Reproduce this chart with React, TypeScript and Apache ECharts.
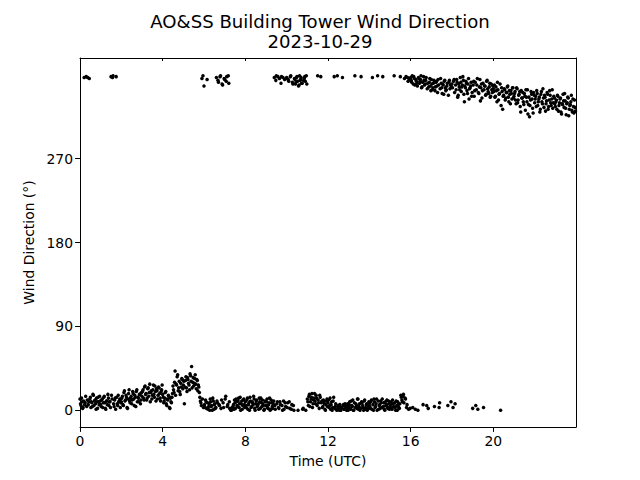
import React, { useEffect, useRef } from "react";
import * as echarts from "echarts";

// Wind direction (degrees). Readings every 3 minutes (0.05 h) per 3-hour block,
// plus a second set of readings offset by 1.5 minutes.
const stepHours = 0.05;
const offsetHours = 0.025;

const dir00to03 = [
  12, 5, 9, 3, 357, 8, 358, 11, 6, 356, 14, 9, 4, 16, 10, 7, 13, 2, 9, 15,
  6, 11, 3, 14, 8, 1, 10, 17, 5, 9, 358, 12, 359, 4, 13, 358, 7, 16, 10, 3,
  9, 15, 5, 21, 11, 14, 2, 18, 10, 13, 7, 20, 12, 16, 4, 22, 14, 9, 17, 11,
];
const dir03to06 = [
  15, 22, 11, 26, 18, 13, 24, 19, 9, 21, 16, 27, 14, 20, 23, 12, 25, 18, 10, 22,
  17, 8, 13, 20, 5, 11, 15, 2, 9, 14, 26, 19, 42, 28, 36, 21, 31, 17, 25, 33,
  27, 7, 32, 24, 35, 29, 22, 37, 47, 30, 26, 34, 28, 33, 21, 25, 14, 8, 356, 359,
];
const dir06to09 = [
  348, 3, 9, 355, 1, 7, 12, 4, 0, 10, 6, 2, 357, 8, 352, 5, 359, 11, 349, 3,
  355, 15, 358, 6, 351, 2, 0, 2, 4, 1, 8, 12, 5, 10, 3, 14, 7, 1, 11, 6,
  9, 3, 13, 6, 0, 10, 4, 8, 15, 2, 7, 11, 5, 1, 9, 13, 4, 7, 0, 10,
];
const dir09to12 = [
  5, 12, 2, 8, 0, 11, 4, 7, 357, 1, 359, 9, 3, 356, 6, 358, 0, 10, 355, 4,
  357, 8, 353, 2, 359, 6, 350, 0, 355, 352, 358, 0, 349, 354, 357, 351, 2, 356, 353, 359,
  12, 5, 17, 9, 14, 3, 11, 18, 7, 13, 359, 8, 16, 358, 10, 4, 9, 1, 6, 12,
];
const dir12to15 = [
  8, 3, 13, 6, 0, 10, 358, 4, 1, 359, 5, 0, 3, 2, 357, 6, 1, 4, 0, 7,
  3, 9, 1, 5, 11, 0, 359, 7, 2, 12, 4, 0, 358, 8, 3, 10, 1, 6, 0, 4,
  7, 2, 11, 357, 0, 9, 4, 12, 359, 1, 6, 10, 3, 358, 8, 0, 5, 11, 2, 7,
];
const dir15to18 = [
  4, 9, 1, 7, 359, 3, 10, 0, 6, 2, 358, 14, 9, 17, 356, 12, 3, 357, 1, 355,
  357, 352, 3, 358, 349, 355, 351, 0, 356, 353, 359, 347, 6, 354, 350, 357, 345, 2, 352, 348,
  355, 344, 351, 4, 347, 353, 341, 349, 8, 356, 346, 350, 339, 354, 343, 348, 5, 352, 345, 9,
];
const dir18to21 = [
  350, 3, 355, 7, 344, 352, 338, 347, 357, 342, 349, 354, 331, 346, 351, 340, 356, 345, 348, 337,
  2, 353, 343, 5, 349, 1, 340, 355, 346, 335, 351, 344, 348, 339, 354, 342, 347, 336, 350, 341,
  345, 349, 337, 343, 352, 333, 340, 0, 346, 323, 338, 344, 335, 341, 348, 331, 339, 343, 334, 346,
];
const dir21to24 = [
  337, 342, 329, 345, 333, 339, 326, 343, 335, 331, 340, 322, 336, 344, 328, 315, 333, 339, 324, 341,
  330, 337, 343, 327, 334, 320, 339, 331, 345, 325, 336, 329, 341, 323, 333, 338, 327, 344, 330, 335,
  326, 333, 338, 321, 330, 335, 318, 328, 332, 340, 324, 329, 336, 316, 327, 331, 322, 334, 319, 325,
];

const dir00to03b = [
  7, 13, 2, 10, 6, 15, 4, 357, 9, 12, 3, 8, 17, 5, 11, 1, 9, 14, 6, 10,
  4, 12, 8, 15, 2, 10, 6, 13, 9, 3, 16, 357, 7, 11, 1, 14, 5, 9, 12, 8,
  13, 6, 19, 10, 16, 3, 12, 22, 8, 15, 11, 18, 5, 14, 20, 9, 13, 17, 7, 19,
];
const dir03to06b = [
  20, 13, 25, 17, 11, 23, 15, 28, 19, 12, 22, 17, 26, 10, 21, 16, 24, 13, 20, 27,
  14, 10, 19, 7, 12, 16, 3, 13, 8, 18, 22, 30, 16, 27, 38, 24, 20, 29, 34, 23,
  31, 25, 36, 20, 33, 27, 39, 31, 24, 35, 29, 38, 23, 32, 27, 19, 10, 5, 12, 3,
];
const dir06to09b = [
  6, 11, 2, 8, 4, 0, 9, 5, 13, 1, 7, 3, 10, 354, 6, 358, 2, 350, 8, 356,
  12, 353, 4, 359, 9, 1, 0, 3, 6, 11, 2, 9, 4, 13, 7, 0, 10, 5, 12, 3,
  5, 11, 1, 8, 14, 3, 9, 6, 12, 0, 10, 4, 7, 13, 2, 8, 11, 5, 1, 9,
];
const dir09to12b = [
  9, 3, 6, 13, 1, 8, 2, 10, 5, 354, 7, 358, 2, 9, 351, 5, 357, 1, 8, 356,
  3, 355, 9, 358, 1, 352, 5, 356, 350, 357, 353, 348, 359, 355, 351, 1, 354, 358, 0, 350,
  9, 15, 4, 12, 18, 7, 13, 10, 16, 5, 11, 2, 14, 8, 3, 11, 7, 0, 10, 4,
];
const dir12to15b = [
  11, 5, 1, 9, 3, 14, 2, 7, 0, 4, 2, 6, 0, 3, 5, 1, 7, 2, 4, 0,
  6, 2, 10, 4, 0, 8, 3, 5, 12, 1, 7, 2, 9, 5, 0, 11, 3, 7, 1, 9,
  4, 9, 1, 6, 12, 3, 7, 0, 10, 5, 2, 8, 12, 4, 1, 9, 6, 3, 10, 1,
];
const dir15to18b = [
  6, 2, 11, 4, 8, 0, 5, 9, 3, 7, 16, 11, 15, 8, 13, 358, 6, 353, 356, 2,
  354, 359, 350, 356, 1, 353, 348, 357, 351, 355, 346, 352, 358, 349, 354, 5, 351, 347, 356, 343,
  350, 346, 354, 343, 352, 348, 355, 3, 345, 351, 340, 349, 353, 346, 344, 351, 338, 354, 349, 347,
];
const dir18to21b = [
  346, 353, 341, 349, 355, 336, 350, 344, 352, 347, 358, 339, 348, 353, 343, 350, 334, 346, 352, 341,
  349, 337, 352, 344, 356, 341, 347, 332, 350, 343, 3, 348, 338, 353, 345, 340, 351, 337, 344, 348,
  342, 336, 347, 331, 344, 339, 350, 327, 342, 337, 345, 333, 341, 347, 336, 343, 329, 340, 346, 335,
];
const dir21to24b = [
  340, 333, 346, 330, 338, 342, 320, 335, 341, 328, 337, 344, 331, 318, 336, 327, 342, 334, 319, 338,
  334, 326, 340, 331, 336, 323, 342, 329, 335, 338, 321, 332, 339, 326, 343, 330, 334, 324, 337, 329,
  331, 323, 337, 327, 334, 320, 329, 339, 325, 332, 317, 330, 335, 323, 328, 338, 320, 326, 333, 321,
];

const blockStarts = [0, 3, 6, 9, 12, 15, 18, 21];
const blocksA = [dir00to03, dir03to06, dir06to09, dir09to12, dir12to15, dir15to18, dir18to21, dir21to24];
const blocksB = [dir00to03b, dir03to06b, dir06to09b, dir09to12b, dir12to15b, dir15to18b, dir18to21b, dir21to24b];

const xTicks = [0, 4, 8, 12, 16, 20];
const yTicks = [0, 90, 180, 270];

const FONT = "DejaVu Sans";

export default function App() {
  const ref = useRef<HTMLDivElement>(null);
  useEffect(() => {
    if (!ref.current) return;
    const chart = echarts.init(ref.current, undefined, { renderer: "svg" });
    const data: number[][] = [];
    const addBlocks = (blocks: number[][], offset: number) => {
      blocks.forEach((arr, b) => {
        arr.forEach((d, i) => {
          data.push([Math.round((blockStarts[b] + offset + i * stepHours) * 10000) / 10000, d]);
        });
      });
    };
    addBlocks(blocksA, 0);
    addBlocks(blocksB, offsetHours);
    const lineStyle = { color: "#000", width: 1 };
    chart.setOption({
      animation: false,
      backgroundColor: "#fff",
      title: {
        text: "AO&SS Building Tower Wind Direction\n2023-10-29",
        left: "center",
        top: 6,
        textStyle: {
          fontFamily: FONT,
          fontSize: 18.1,
          fontWeight: "normal",
          color: "#000",
          lineHeight: 20,
        },
      },
      grid: { left: 80, right: 64, top: 58, bottom: 53, containLabel: false },
      xAxis: [
        {
          type: "value",
          min: 0,
          max: 24,
          position: "bottom",
          name: "Time (UTC)",
          nameLocation: "middle",
          nameGap: 27,
          nameTextStyle: { fontFamily: FONT, fontSize: 13.9, color: "#000" },
          axisLine: { show: true, onZero: false, lineStyle },
          axisTick: { show: true, length: 4.9, lineStyle, customValues: xTicks },
          axisLabel: {
            fontFamily: FONT,
            fontSize: 13.9,
            color: "#000",
            margin: 7,
            customValues: xTicks,
          },
          splitLine: { show: false },
        },
        {
          type: "value",
          min: 0,
          max: 24,
          position: "top",
          axisLine: { show: true, onZero: false, lineStyle },
          axisTick: { show: true, inside: true, length: 3, lineStyle, customValues: xTicks },
          axisLabel: { show: false },
          splitLine: { show: false },
        },
      ],
      yAxis: [
        {
          type: "value",
          min: -18,
          max: 378,
          position: "left",
          name: "Wind Direction (°)",
          nameLocation: "middle",
          nameGap: 35,
          nameRotate: 90,
          nameTextStyle: { fontFamily: FONT, fontSize: 13.9, color: "#000" },
          axisLine: { show: true, onZero: false, lineStyle },
          axisTick: { show: true, length: 4.9, lineStyle, customValues: yTicks },
          axisLabel: {
            fontFamily: FONT,
            fontSize: 13.9,
            color: "#000",
            margin: 7,
            customValues: yTicks,
          },
          splitLine: { show: false },
        },
        {
          type: "value",
          min: -18,
          max: 378,
          position: "right",
          axisLine: { show: true, onZero: false, lineStyle },
          axisTick: { show: false },
          axisLabel: { show: false },
          splitLine: { show: false },
        },
      ],
      series: [
        {
          type: "scatter",
          xAxisIndex: 0,
          yAxisIndex: 0,
          data,
          symbol: "circle",
          symbolSize: 3.5,
          itemStyle: { color: "#000", opacity: 1 },
          silent: true,
        },
      ],
    });
    return () => chart.dispose();
  }, []);
  return (
    <div
      ref={ref}
      style={{ position: "fixed", left: 0, top: 0, width: 640, height: 480 }}
    />
  );
}
